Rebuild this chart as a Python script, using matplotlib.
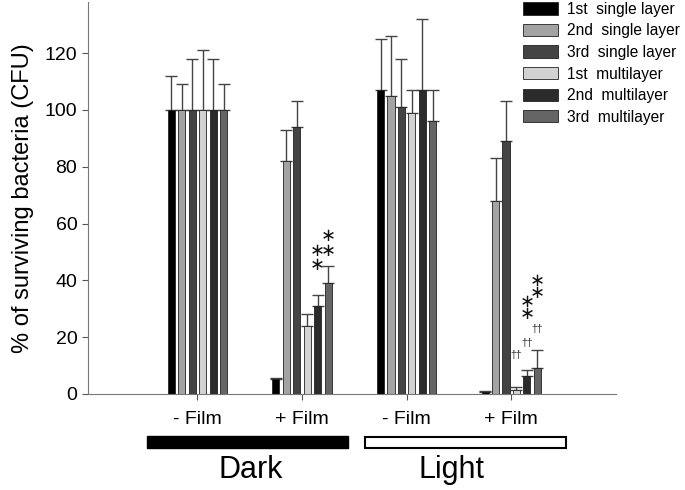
import numpy as np
import matplotlib.pyplot as plt
from matplotlib.patches import Rectangle
import matplotlib.transforms as mtransforms

plt.rcParams['font.family'] = ['Liberation Sans', 'DejaVu Sans']

groups = ['- Film', '+ Film', '- Film', '+ Film']
series = ['1st  single layer', '2nd  single layer', '3rd  single layer',
          '1st  multilayer', '2nd  multilayer', '3rd  multilayer']
colors = ['#000000', '#a3a3a3', '#444444', '#d2d2d2', '#2b2b2b', '#656565']

# rows = series, cols = groups
values = [
    [100, 5.2, 107, 0.6],
    [100, 82, 105, 68],
    [100, 94, 101, 89],
    [100, 24, 99, 1.5],
    [100, 31, 107, 6.2],
    [100, 39, 96, 9.2],
]
err_top = [
    [112, 5.6, 125, 1.0],
    [109, 93, 126, 83],
    [118, 103, 118, 103],
    [121, 28, 107, 2.6],
    [118, 35, 132, 8.3],
    [109, 45, 107, 15.5],
]
# (group, series, y, symbol)
marks = [
    (1, 4, 50.5, '∗'), (1, 4, 45.5, '∗'), (1, 5, 55.5, '∗'), (1, 5, 50.5, '∗'),
    (3, 4, 32.5, '∗'), (3, 4, 28.3, '∗'), (3, 5, 39.8, '∗'), (3, 5, 35.7, '∗'),
    (3, 3, 13.8, '††'), (3, 4, 18.0, '††'), (3, 5, 23.0, '††'),
]
conditions = ['Dark', 'Light']

fig = plt.figure(figsize=(6.85, 4.9), dpi=100)
ax = fig.add_axes([0.128, 0.196, 0.771, 0.80])

x = np.arange(1, len(groups) + 1)
pitch = 0.1
width = 0.068
for i, name in enumerate(series):
    xs = x + (i - 2.5) * pitch
    v = np.array(values[i])
    up = np.array(err_top[i]) - v
    ax.bar(xs, v, width, color=colors[i], edgecolor='#222222', linewidth=0.6,
           label=name, zorder=2)
    ax.errorbar(xs, v, yerr=[np.zeros_like(v), up], fmt='none',
                ecolor='#444444', elinewidth=1.0, capsize=4, capthick=1.0, zorder=1)

for g, s, y, sym in marks:
    xx = x[g] + (s - 2.5) * pitch
    if sym == '∗':
        ax.text(xx, y, sym, ha='center', va='center', fontsize=13,
                family='DejaVu Sans', color='#111111')
    else:
        ax.text(xx, y, sym, ha='center', va='center', fontsize=7.5, color='#333333')

ax.set_xlim(-0.05, 5.0)
ax.set_ylim(0, 138)
ax.set_yticks(np.arange(0, 121, 20))
ax.set_xticks(x)
ax.set_xticklabels(groups, fontsize=14)
ax.tick_params(axis='y', labelsize=14, length=4, color='#555555')
ax.tick_params(axis='x', length=4, color='#555555', pad=8)
for sp in ['top', 'right']:
    ax.spines[sp].set_visible(False)
for sp in ['left', 'bottom']:
    ax.spines[sp].set_color('#777777')
ax.set_ylabel('% of surviving bacteria (CFU)', fontsize=17, labelpad=8)

trans = mtransforms.blended_transform_factory(ax.transData, ax.transAxes)
ax.add_patch(Rectangle((0.52, -0.138), 1.92, 0.031, transform=trans,
                       facecolor='black', edgecolor='black', clip_on=False))
ax.add_patch(Rectangle((2.6, -0.137), 1.92, 0.028, transform=trans,
                       facecolor='white', edgecolor='black', linewidth=1.5,
                       clip_on=False))
ax.text(1.51, -0.195, conditions[0], transform=trans, ha='center', va='center',
        fontsize=22)
ax.text(3.43, -0.195, conditions[1], transform=trans, ha='center', va='center',
        fontsize=22)

ax.legend(loc='upper left', bbox_to_anchor=(0.824, 1.0), frameon=False,
          fontsize=11.2, handlelength=2.25, handleheight=0.85, labelspacing=0.42,
          handletextpad=0.6, borderaxespad=0, borderpad=0)

fig.savefig('out.png', dpi=100)
